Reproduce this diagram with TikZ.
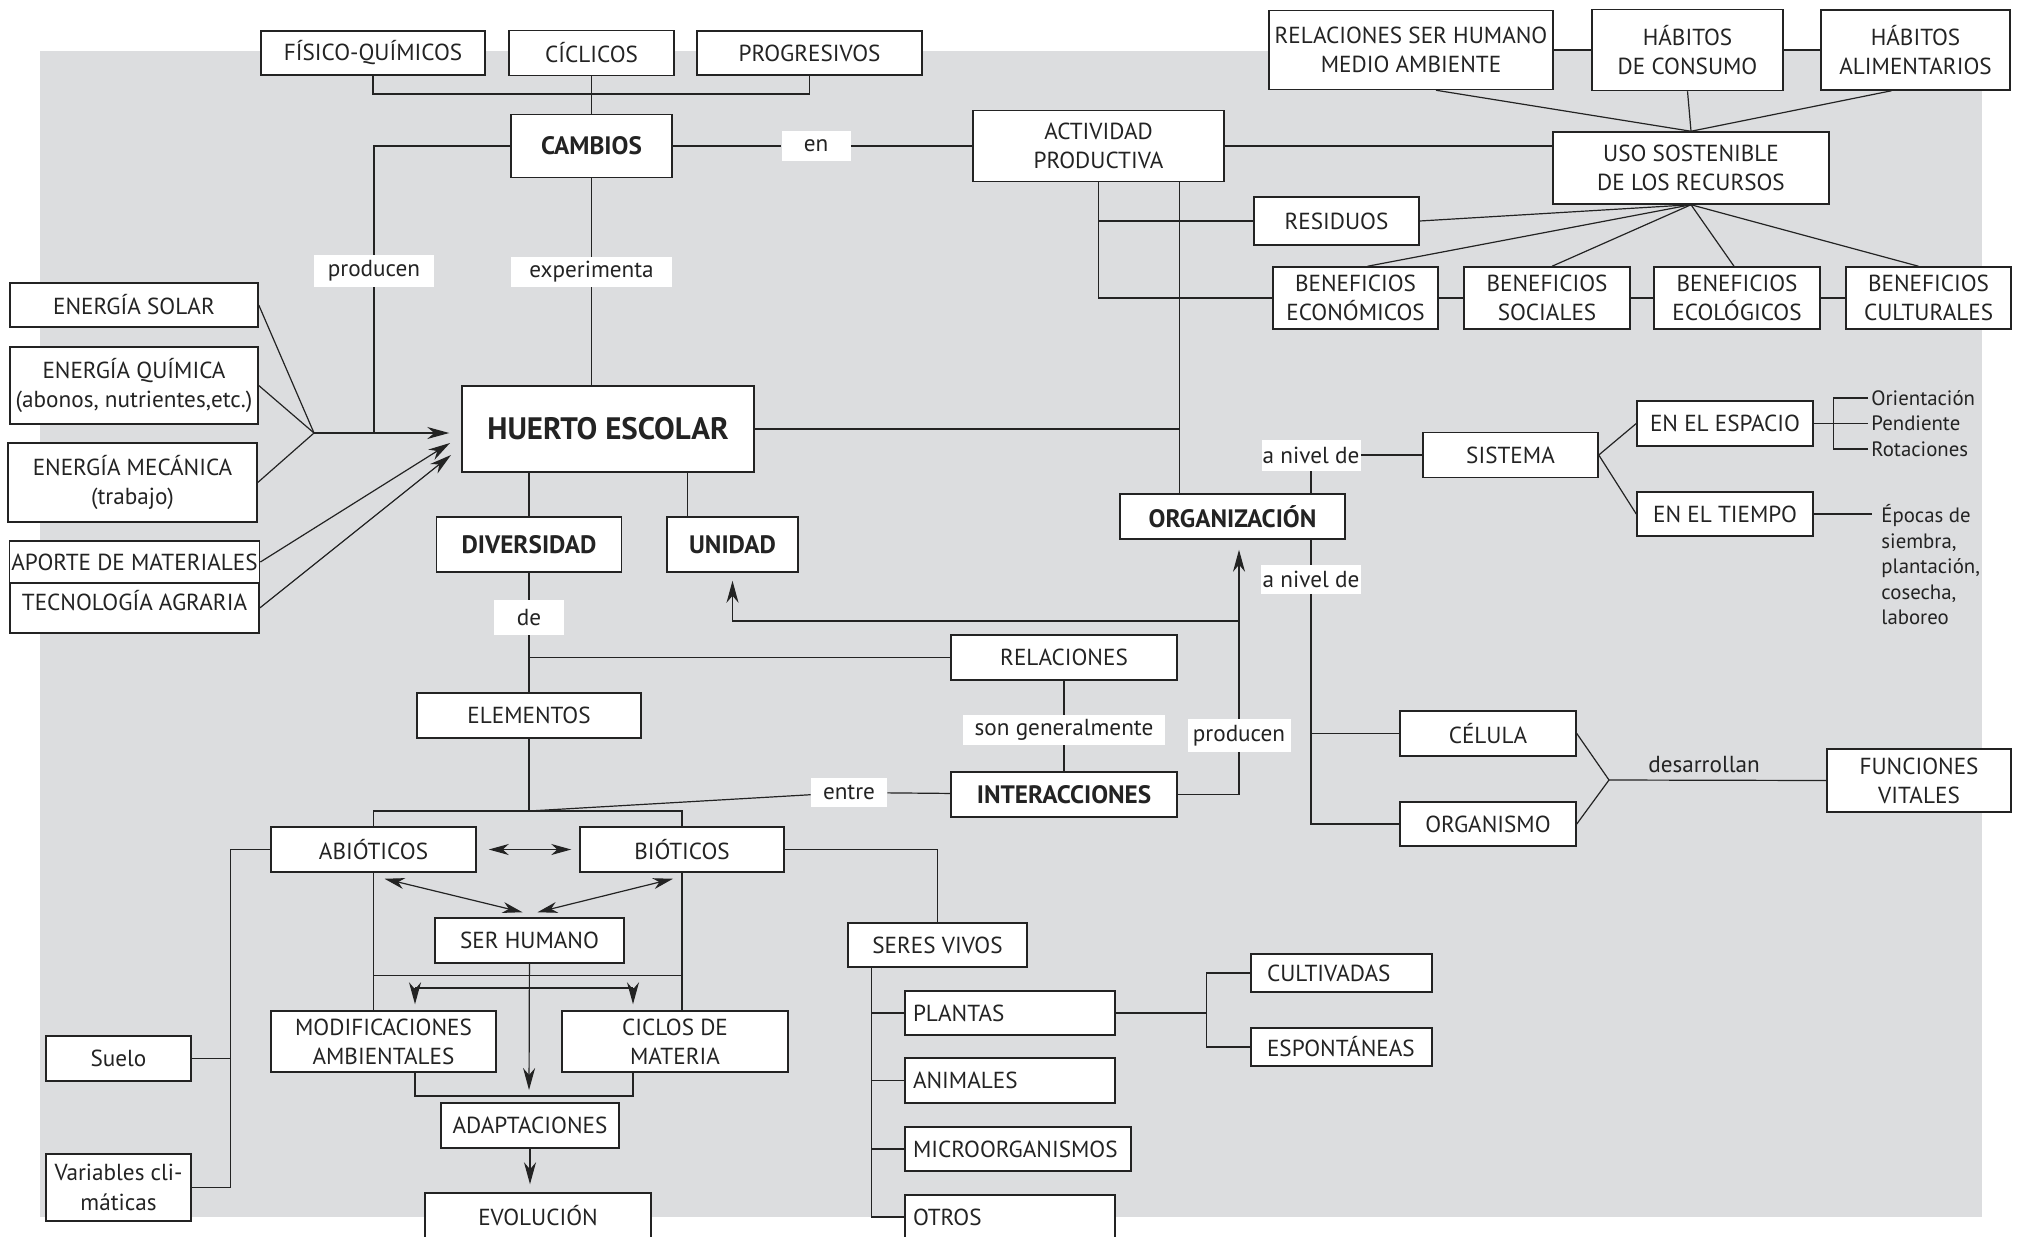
\documentclass[tikz,border=0pt]{standalone}
\usepackage{fontspec}
\setmainfont{PT Sans}
\usetikzlibrary{arrows.meta,calc}

\definecolor{mapgray}{RGB}{220,221,223}
\definecolor{mapink}{RGB}{35,35,35}

\tikzset{
  box/.style={draw=mapink, fill=white, line width=0.75pt, inner sep=1pt, align=center, text=mapink, font=\fontsize{11.6}{14.6}\selectfont},
  boldbox/.style={box, font=\fontsize{12.6}{14}\selectfont\bfseries},
  leftbox/.style={box, align=left, inner xsep=4pt},
  linklabel/.style={fill=white, inner sep=0pt, text=mapink, font=\fontsize{11.6}{13}\selectfont},
  note/.style={inner sep=1.5pt, text=mapink, font=\fontsize{10.4}{12.8}\selectfont},
  conn/.style={draw=mapink, line width=0.6pt},
  arrowline/.style={conn, -{Stealth[length=11pt,width=6pt,inset=3.5pt]}},
  twoway/.style={conn, {Stealth[length=10pt,width=5.5pt,inset=3pt]}-{Stealth[length=10pt,width=5.5pt,inset=3pt]}}
}

\begin{document}
\begin{tikzpicture}[x=0.5pt,y=0.5pt,yscale=-1,xscale=1]
\useasboundingbox (0,0) rectangle (2021,1236);
\clip (0,0) rectangle (2021,1236);

%Shape: background
\fill[mapgray] (40,51) rectangle (1982,1217);

%Boxes: top row
\node[box, minimum width=112pt, minimum height=22pt] (fisico) at (373,53) {FÍSICO-QUÍMICOS};
\node[box, minimum width=82.5pt, minimum height=22.5pt] (ciclicos) at (591.5,53) {CÍCLICOS};
\node[box, minimum width=112.5pt, minimum height=22pt] (progresivos) at (809.5,53) {PROGRESIVOS};
\node[boldbox, minimum width=80.5pt, minimum height=31.5pt] (cambios) at (591.5,146) {CAMBIOS};
\node[linklabel, minimum width=34.5pt, minimum height=15pt] (en) at (816,146) {en};
\node[box, minimum width=125.5pt, minimum height=35.5pt] (actividad) at (1098.5,146) {ACTIVIDAD\\PRODUCTIVA};

%Boxes: recursos
\node[box, minimum width=142pt, minimum height=39.5pt] (relhum) at (1411,50) {RELACIONES SER HUMANO\\MEDIO AMBIENTE};
\node[box, minimum width=95.5pt, minimum height=40.5pt] (habcons) at (1687.5,50) {HÁBITOS\\DE CONSUMO};
\node[box, minimum width=94.5pt, minimum height=40pt] (habalim) at (1915.5,50) {HÁBITOS\\ALIMENTARIOS};
\node[box, minimum width=138pt, minimum height=36pt] (uso) at (1691,168) {USO SOSTENIBLE\\DE LOS RECURSOS};
\node[box, minimum width=82.5pt, minimum height=24pt] (residuos) at (1336.5,221) {RESIDUOS};
\node[box, minimum width=82.5pt, minimum height=31pt] (beneco) at (1355.5,298) {BENEFICIOS\\ECONÓMICOS};
\node[box, minimum width=83pt, minimum height=31pt] (bensoc) at (1547,298) {BENEFICIOS\\SOCIALES};
\node[box, minimum width=83pt, minimum height=31pt] (benecol) at (1737,298) {BENEFICIOS\\ECOLÓGICOS};
\node[box, minimum width=82.5pt, minimum height=31pt] (bencul) at (1928.5,298) {BENEFICIOS\\CULTURALES};

%Boxes: energias
\node[linklabel, minimum width=60pt, minimum height=16pt] (prod1) at (374,271) {producen};
\node[linklabel, minimum width=80.5pt, minimum height=15pt] (exper) at (591.5,272) {experimenta};
\node[box, minimum width=124pt, minimum height=22pt] (solar) at (134,305) {ENERGÍA SOLAR};
\node[box, minimum width=124pt, minimum height=38.5pt] (quimica) at (134,385.5) {ENERGÍA QUÍMICA\\(abonos, nutrientes,etc.)};
\node[box, minimum width=124.5pt, minimum height=39.5pt] (mecanica) at (132.5,482.5) {ENERGÍA MECÁNICA\\(trabajo)};
\node[box, minimum width=124.5pt, minimum height=21pt] (aporte) at (134.5,562) {APORTE DE MATERIALES};
\node[box, minimum width=124.5pt, minimum height=25pt, text height=10pt, text depth=8pt] (tecno) at (134.5,608) {TECNOLOGÍA AGRARIA};

%Box: HUERTO ESCOLAR
\node[boldbox, minimum width=146pt, minimum height=43pt, font=\fontsize{15.5}{17}\selectfont\bfseries] (huerto) at (608,429) {HUERTO ESCOLAR};

%Boxes: diversidad, unidad
\node[boldbox, minimum width=92.5pt, minimum height=27.5pt] (diversidad) at (529,544.5) {DIVERSIDAD};
\node[boldbox, minimum width=65.5pt, minimum height=27.5pt] (unidad) at (732.5,544.5) {UNIDAD};
\node[linklabel, minimum width=35pt, minimum height=17.5pt] (de) at (529,617.5) {de};
\node[box, minimum width=112pt, minimum height=22.5pt] (elementos) at (529,715.5) {ELEMENTOS};
\node[box, minimum width=113pt, minimum height=22.5pt] (relaciones) at (1064,657.5) {RELACIONES};
\node[linklabel, minimum width=101pt, minimum height=15pt] (songen) at (1064,730) {son generalmente};
\node[boldbox, minimum width=113pt, minimum height=22.5pt] (interacciones) at (1064,794.5) {INTERACCIONES};
\node[linklabel, minimum width=38pt, minimum height=14.5pt] (entre) at (849,792.5) {entre};
\node[linklabel, minimum width=51.5pt, minimum height=16.5pt] (prod2) at (1239,735.5) {producen};

%Boxes: organizacion
\node[boldbox, minimum width=112.5pt, minimum height=22.5pt] (organizacion) at (1232.5,516.5) {ORGANIZACIÓN};
\node[linklabel, minimum width=49.5pt, minimum height=15.5pt] (anivel1) at (1311,455) {a nivel de};
\node[linklabel, minimum width=50pt, minimum height=14.5pt] (anivel2) at (1311,579.5) {a nivel de};
\node[box, minimum width=87.5pt, minimum height=22.5pt] (sistema) at (1510.5,455) {SISTEMA};
\node[box, minimum width=88pt, minimum height=22.5pt] (espacio) at (1725,423.5) {EN EL ESPACIO};
\node[box, minimum width=88pt, minimum height=22pt] (tiempo) at (1725,514) {EN EL TIEMPO};
\node[note, anchor=west] (orient) at (1868,398) {Orientación};
\node[note, anchor=west] (pend) at (1868,423.5) {Pendiente};
\node[note, anchor=west] (rot) at (1868,449) {Rotaciones};
\node[note, anchor=north west, align=left] (epocas) at (1878,501) {Épocas de\\siembra,\\plantación,\\cosecha,\\laboreo};
\node[box, minimum width=88pt, minimum height=22.5pt] (celula) at (1488,733.5) {CÉLULA};
\node[box, minimum width=88pt, minimum height=22pt] (organismo) at (1488,824) {ORGANISMO};
\node[text=mapink, font=\fontsize{11.6}{13}\selectfont] (desarrollan) at (1704,765) {desarrollan};
\node[box, minimum width=92pt, minimum height=31.5pt] (funciones) at (1919,780.5) {FUNCIONES\\VITALES};

%Boxes: elementos
\node[box, minimum width=102.5pt, minimum height=22.5pt] (abioticos) at (373.5,849.5) {ABIÓTICOS};
\node[box, minimum width=102pt, minimum height=22.5pt] (bioticos) at (682,849.5) {BIÓTICOS};
\node[box, minimum width=94.5pt, minimum height=22.5pt] (serhumano) at (529.5,940.5) {SER HUMANO};
\node[box, minimum width=112.5pt, minimum height=30.5pt] (modif) at (383.5,1041.5) {MODIFICACIONES\\AMBIENTALES};
\node[box, minimum width=113pt, minimum height=30.5pt] (ciclos) at (675,1041.5) {CICLOS DE\\MATERIA};
\node[box, minimum width=89pt, minimum height=22.5pt] (adapt) at (530,1125.5) {ADAPTACIONES};
\node[box, minimum width=113pt, minimum height=22.5pt] (evolucion) at (538,1215.5) {EVOLUCIÓN};
\node[box, minimum width=72.5pt, minimum height=22.5pt] (suelo) at (118.5,1058.5) {Suelo};
\node[box, minimum width=72.5pt, minimum height=33.5pt] (variables) at (118.5,1187.5) {Variables cli-\\máticas};

%Boxes: seres vivos
\node[box, minimum width=89.5pt, minimum height=22pt] (seresvivos) at (937.5,945) {SERES VIVOS};
\node[leftbox, text width=97pt, minimum height=22pt] (plantas) at (1010,1013) {PLANTAS};
\node[leftbox, text width=97pt, minimum height=22.5pt] (animales) at (1010,1080.5) {ANIMALES};
\node[leftbox, text width=105pt, minimum height=22pt] (micro) at (1018,1149) {MICROORGANISMOS};
\node[leftbox, text width=97pt, minimum height=22pt] (otros) at (1010,1217) {OTROS};
\node[leftbox, inner xsep=8pt, text width=74.5pt, minimum height=19pt] (cultivadas) at (1341.5,973) {CULTIVADAS};
\node[leftbox, inner xsep=8pt, text width=74.5pt, minimum height=19pt] (espontaneas) at (1341.5,1047) {ESPONTÁNEAS};

%Coordinates: junctions
\coordinate (cj) at (591.5,94);
\coordinate (conv) at (314,433);
\coordinate (tipA) at (450,443);
\coordinate (tipB) at (451,455);
\coordinate (un) at ($(unidad.north west)+(21,0)$);
\coordinate (ej) at (529,811);
\coordinate (uj) at (1239,621);
\coordinate (av) at ($(actividad.south west)+(207,0)$);
\coordinate (eb) at ($(espacio.east)+(20,0)$);
\coordinate (fj) at (1609,780);
\coordinate (sh1) at (415,988);
\coordinate (sh2) at (633,988);
\coordinate (mc) at (529,1096);
\coordinate (lv) at ($(variables.east)+(39,0)$);
\coordinate (sv) at ($(seresvivos.south west)+(24,0)$);
\coordinate (pj) at ($(plantas.east)+(91,0)$);

%Straight Lines: cambios
\draw[conn] (fisico.south) |- (cj) -| (progresivos.south);
\draw[conn] (ciclicos) -- (cambios);
\draw[conn] (cambios) -- (en) -- (actividad);
\draw[conn] (cambios.west) -| (prod1);
\draw[conn] (prod1) -- (prod1 |- conv);
\draw[conn] (cambios) -- (exper);
\draw[conn] (exper) -- (exper |- huerto.north);

%Straight Lines: energias
\draw[conn] (solar.east) -- (conv);
\draw[conn] (quimica.east) -- (conv);
\draw[conn] (mecanica.east) -- (conv);
\draw[arrowline, shorten >=6pt] (conv) -- (conv -| huerto.west);
\draw[arrowline] (aporte.east) -- (tipA);
\draw[arrowline] (tecno.east) -- (tipB);

%Straight Lines: actividad, recursos
\draw[conn] (huerto.east) -- (huerto.east -| av);
\draw[conn] (av) -- (av |- organizacion.north);
\draw[conn] (actividad.south) |- (beneco.west);
\draw[conn] (actividad.south |- residuos) -- (residuos);
\draw[conn] (beneco) -- (bensoc) -- (benecol) -- (bencul);
\draw[conn] (actividad.east) -- (actividad.east -| uso.west);
\draw[conn] (relhum) -- (habcons) -- (habalim);
\draw[conn] ($(relhum.south)+(25,0)$) -- (uso.north);
\draw[conn] (habcons.south) -- (uso.north);
\draw[conn] ($(habalim.south)+(-24,0)$) -- (uso.north);
\draw[conn] (uso.south) -- (residuos.east);
\draw[conn] (uso.south) -- ($(beneco.north)+(12,0)$);
\draw[conn] (uso.south) -- ($(bensoc.north)+(5,0)$);
\draw[conn] (uso.south) -- ($(benecol.north)+(-3,0)$);
\draw[conn] (uso.south) -- ($(bencul.north)+(-10,0)$);

%Straight Lines: diversidad, unidad
\draw[conn] (diversidad.north |- huerto.south) -- (diversidad.north);
\draw[conn] (un) -- (un |- huerto.south);
\draw[conn] (diversidad) -- (de) -- (elementos);
\draw[conn] (de |- relaciones) -- (relaciones);
\draw[conn] (elementos) -- (ej);
\draw[conn] (ej) -- (entre) -- (interacciones);
\draw[conn] (abioticos) |- (ej) -| (bioticos);
\draw[conn] (relaciones) -- (songen) -- (interacciones);
\draw[conn] (interacciones) -| (prod2);
\draw[arrowline, shorten >=5pt] (prod2) -- (prod2 |- organizacion.south);
\draw[arrowline, shorten >=4pt] (uj) -| (unidad.south);

%Straight Lines: organizacion
\draw[conn] (anivel1 |- organizacion.north) -- (anivel1) -- (sistema);
\draw[conn] (sistema.east) -- (espacio.west);
\draw[conn] (sistema.east) -- (tiempo.west);
\draw[conn] (espacio) -- (eb);
\draw[conn] (orient.west) -| (eb) |- (rot.west);
\draw[conn] (eb |- pend) -- (pend.west);
\draw[conn, shorten >=3pt] (tiempo) -- (tiempo -| epocas.west);
\draw[conn] (anivel2 |- organizacion.south) -- (anivel2);
\draw[conn] (anivel2) |- (organismo);
\draw[conn] (anivel2 |- celula) -- (celula);
\draw[conn] (celula.east) -- (fj);
\draw[conn] (organismo.east) -- (fj);
\draw[conn] (fj) -- (funciones.west);

%Straight Lines: abioticos, bioticos
\draw[twoway, shorten <=6pt, shorten >=4pt] (abioticos) -- (bioticos);
\draw[twoway] ($(abioticos.south)+(11,6)$) -- ($(serhumano.north)+(-7,-5)$);
\draw[twoway] ($(bioticos.south)+(-9,6)$) -- ($(serhumano.north)+(8,-5)$);
\draw[conn] (abioticos.south) -- (abioticos.south |- modif.north);
\draw[conn] (bioticos.south) -- (bioticos.south |- ciclos.north);
\draw[conn] ($(abioticos.south)+(0,103)$) -- ($(bioticos.south)+(0,103)$);
\draw[conn] (sh1) -- (sh2);
\draw[arrowline, shorten >=3pt] (sh1) -- (sh1 |- modif.north);
\draw[arrowline, shorten >=3pt] (sh2) -- (sh2 |- ciclos.north);
\draw[conn] (sh1 |- modif.south) |- (mc) -| (sh2 |- ciclos.south);
\draw[arrowline, shorten >=3pt] (serhumano) -- (mc);
\draw[arrowline, shorten >=4pt] (adapt) -- (adapt |- evolucion.north);
\draw[conn] (abioticos.west) -| (lv) -- (variables.east);
\draw[conn] (suelo) -- (suelo -| lv);

%Straight Lines: seres vivos
\draw[conn] (bioticos.east) -| (seresvivos.north);
\draw[conn] (sv) |- (otros.west);
\draw[conn] (sv |- plantas.west) -- (plantas.west);
\draw[conn] (sv |- animales.west) -- (animales.west);
\draw[conn] (sv |- micro.west) -- (micro.west);
\draw[conn] (plantas) -- (pj);
\draw[conn] (cultivadas.west) -| (pj) |- (espontaneas.west);

\end{tikzpicture}
\end{document}
